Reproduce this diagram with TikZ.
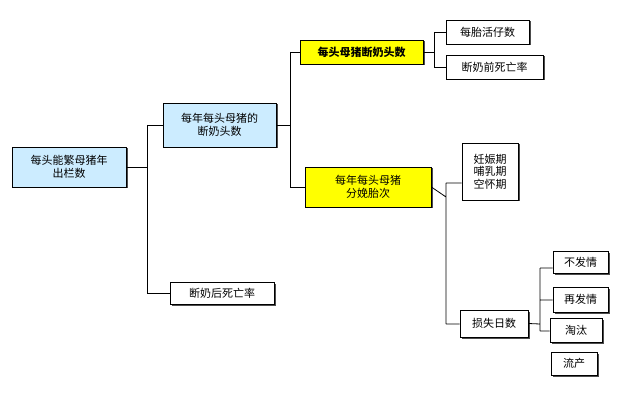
\documentclass[tikz,border=0pt]{standalone}
\usepackage{fontspec}
\newfontfamily\cjk{Noto Sans CJK SC}
\usetikzlibrary{shadows}
\definecolor{lb}{RGB}{204,236,255}
\definecolor{yl}{RGB}{255,255,0}
\begin{document}
\begin{tikzpicture}[x=1pt,y=-1pt,
 bx/.style={draw=black,line width=0.8pt,fill=white,inner sep=0pt,font=\cjk\fontsize{11}{13}\selectfont,align=center,
   drop shadow={shadow xshift=1.5pt,shadow yshift=-1.5pt,fill=black!70,opacity=1}},
 ln/.style={line width=0.8pt}]
\useasboundingbox (0,0) rectangle (620,419);
\newcommand\bxat[6]{\node[bx,#6,minimum width=#3-#1,minimum height=#4-#2] (#5) at ({(#1+#3)/2},{(#2+#4)/2}) {};}
\node[bx,fill=lb,minimum width=114,minimum height=40] (A) at (69,167) {每头能繁母猪年\\出栏数};
\node[bx,fill=lb,minimum width=113,minimum height=44] (B) at (219.5,125) {每年每头母猪的\\断奶头数};
\node[bx,fill=yl,minimum width=123,minimum height=24,font=\cjk\bfseries\fontsize{11}{13}\selectfont] (C) at (361.5,52) {每头母猪断奶头数};
\node[bx,fill=yl,minimum width=126,minimum height=40] (D) at (368,187) {每年每头母猪\\分娩胎次};
\node[bx,minimum width=104,minimum height=22] (E) at (222,293) {断奶后死亡率};
\node[bx,minimum width=83,minimum height=24] (F) at (487.5,32) {每胎活仔数};
\node[bx,minimum width=97,minimum height=24] (G) at (494.5,67) {断奶前死亡率};
\node[bx,minimum width=56,minimum height=57,font=\cjk\fontsize{11}{12.5}\selectfont] (H) at (490,171.5) {妊娠期\\哺乳期\\空怀期};
\node[bx,minimum width=68,minimum height=27] (I) at (494,323.5) {损失日数};
\node[bx,minimum width=55,minimum height=22] (J) at (580.5,262.5) {不发情};
\node[bx,minimum width=55,minimum height=25] (K) at (580.5,299.5) {再发情};
\node[bx,minimum width=52,minimum height=24] (L) at (576,330) {淘汰};
\node[bx,minimum width=46,minimum height=23] (M) at (574,363.5) {流产};
\draw[ln] (A.east) -- (147,167) (147,125) -- (147,293) (147,125) -- (B.west) (147,293) -- (E.west);
\draw[ln] (B.east) -- (290,125) (290,52) -- (290,187) (290,52) -- (C.west) (290,187) -- (D.west);
\draw[ln] (C.east) -- (434,52) (434,32) -- (434,67) (434,32) -- (F.west) (434,67) -- (G.west);
\draw[ln] (D.east) -- (446,197) (446,183) -- (446,324) (446,183) -- (H.west|-0,183) (446,324) -- (I.west|-0,324);
\draw[ln] (I.east) -- (540,324) (540,268) -- (540,331) (540,268) -- (J.west|-0,268) (540,300) -- (K.west|-0,300) (540,331) -- (L.west|-0,331);
\end{tikzpicture}
\end{document}
